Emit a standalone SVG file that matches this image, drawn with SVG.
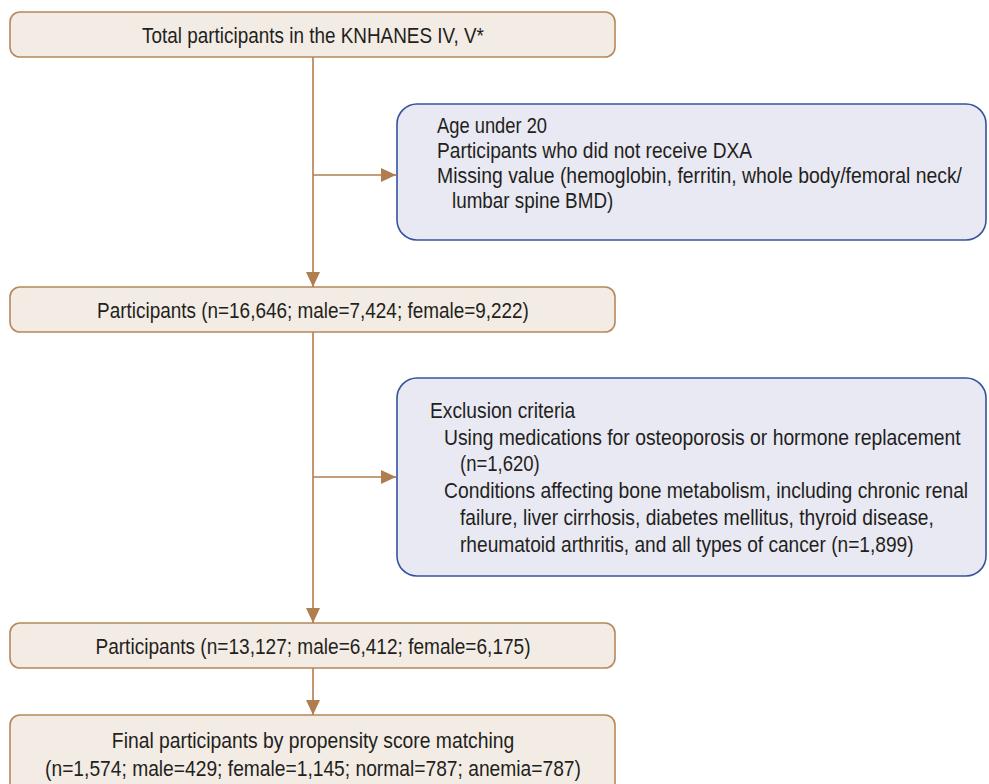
<svg xmlns="http://www.w3.org/2000/svg" width="989" height="784" viewBox="0 0 989 784">
<defs>
<marker id="ah" markerUnits="userSpaceOnUse" markerWidth="16" markerHeight="14" refX="15" refY="7" orient="auto">
<path d="M0,0 L15,7 L0,14 Z" fill="#b07d4f"/>
</marker>
<style>
.tb{fill:#f3ece5;stroke:#b8875b;stroke-width:1.6}
.bb{fill:#e9e9f3;stroke:#34539e;stroke-width:1.6}
text{font-family:"Liberation Sans Narrow","Liberation Sans",Arial,sans-serif;font-size:22.5px;fill:#231f20}
.c{text-anchor:middle}
.ln{stroke:#b07d4f;stroke-width:1.6;fill:none}
</style>
</defs>
<rect width="989" height="784" fill="#ffffff"/>
<g id="connectors">
<line class="ln" x1="313" y1="57" x2="313" y2="287" marker-end="url(#ah)"/>
<line class="ln" x1="313" y1="175" x2="396" y2="175" marker-end="url(#ah)"/>
<line class="ln" x1="313" y1="332" x2="313" y2="623" marker-end="url(#ah)"/>
<line class="ln" x1="313" y1="477" x2="396" y2="477" marker-end="url(#ah)"/>
<line class="ln" x1="313" y1="668" x2="313" y2="715" marker-end="url(#ah)"/>
</g>
<g id="n1">
<rect class="tb" x="10" y="12" width="605" height="45" rx="10"/>
<text class="c" transform="translate(313,43) scale(0.84,1)" textLength="407" lengthAdjust="spacingAndGlyphs">Total participants in the KNHANES IV, V*</text>
</g>
<g id="e1">
<rect class="bb" x="397" y="104" width="589" height="136" rx="20"/>
<text transform="translate(437,133) scale(0.84,1)" textLength="131" lengthAdjust="spacingAndGlyphs">Age under 20</text>
<text transform="translate(437,158) scale(0.84,1)" textLength="375" lengthAdjust="spacingAndGlyphs">Participants who did not receive DXA</text>
<text transform="translate(437,183) scale(0.84,1)" textLength="625" lengthAdjust="spacingAndGlyphs">Missing value (hemoglobin, ferritin, whole body/femoral neck/</text>
<text transform="translate(452,208) scale(0.84,1)" textLength="192" lengthAdjust="spacingAndGlyphs">lumbar spine BMD)</text>
</g>
<g id="n2">
<rect class="tb" x="10" y="287" width="605" height="45" rx="10"/>
<text class="c" transform="translate(313,318) scale(0.84,1)" textLength="514" lengthAdjust="spacingAndGlyphs">Participants (n=16,646; male=7,424; female=9,222)</text>
</g>
<g id="e2">
<rect class="bb" x="397" y="378" width="589" height="198" rx="20"/>
<text transform="translate(430,418) scale(0.84,1)" textLength="173" lengthAdjust="spacingAndGlyphs">Exclusion criteria</text>
<text transform="translate(444,445) scale(0.84,1)" textLength="615" lengthAdjust="spacingAndGlyphs">Using medications for osteoporosis or hormone replacement</text>
<text transform="translate(460,471) scale(0.84,1)" textLength="95" lengthAdjust="spacingAndGlyphs">(n=1,620)</text>
<text transform="translate(444,498) scale(0.84,1)" textLength="624" lengthAdjust="spacingAndGlyphs">Conditions affecting bone metabolism, including chronic renal</text>
<text transform="translate(460,525) scale(0.84,1)" textLength="564" lengthAdjust="spacingAndGlyphs">failure, liver cirrhosis, diabetes mellitus, thyroid disease,</text>
<text transform="translate(460,552) scale(0.84,1)" textLength="540" lengthAdjust="spacingAndGlyphs">rheumatoid arthritis, and all types of cancer (n=1,899)</text>
</g>
<g id="n3">
<rect class="tb" x="10" y="623" width="605" height="45" rx="10"/>
<text class="c" transform="translate(313,654) scale(0.84,1)" textLength="518" lengthAdjust="spacingAndGlyphs">Participants (n=13,127; male=6,412; female=6,175)</text>
</g>
<g id="n4">
<rect class="tb" x="10" y="715" width="605" height="90" rx="10"/>
<text class="c" transform="translate(313,748) scale(0.84,1)" textLength="479" lengthAdjust="spacingAndGlyphs">Final participants by propensity score matching</text>
<text class="c" transform="translate(313,776) scale(0.84,1)" textLength="638" lengthAdjust="spacingAndGlyphs">(n=1,574; male=429; female=1,145; normal=787; anemia=787)</text>
</g>
</svg>
